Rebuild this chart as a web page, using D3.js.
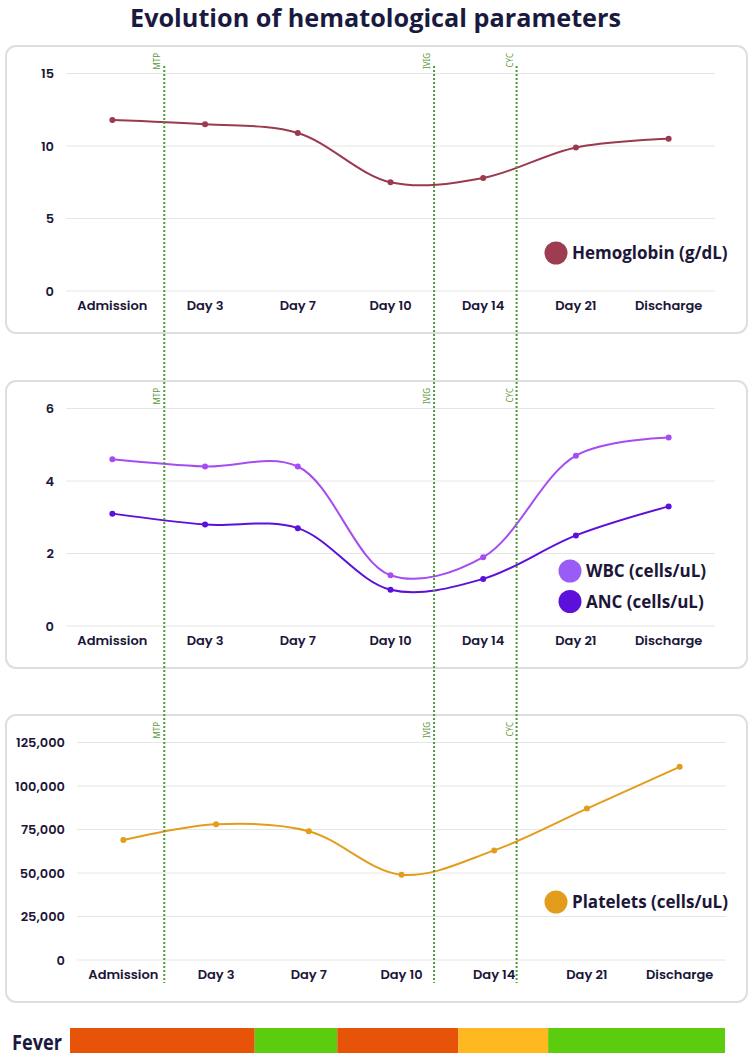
<!DOCTYPE html>
<html lang="en">
<head>
    <meta charset="UTF-8">
    <title>Evolution of hematological parameters</title>
    <script src="https://d3js.org/d3.v7.min.js"></script>
    <style>
        body {
            margin: 0;
            padding: 0;
            background: #ffffff;
        }
        .axis-label {
            font-family: Poppins, Inter, 'Noto Sans', sans-serif;
            font-weight: 600;
            font-size: 13px;
            fill: #1c1638;
        }
        .legend-label {
            font-family: 'Open Sans', sans-serif;
            font-weight: 700;
            font-size: 17px;
            fill: #1c1638;
        }
    </style>
</head>
<body>
    <div id="chart"></div>
    <script>
        // data
        var categories = ["Admission", "Day 3", "Day 7", "Day 10", "Day 14", "Day 21", "Discharge"];
        var hemoglobin = [11.8, 11.5, 10.9, 7.5, 7.8, 9.9, 10.5];
        var wbc = [4.6, 4.4, 4.4, 1.4, 1.9, 4.7, 5.2];
        var anc = [3.1, 2.8, 2.7, 1.0, 1.3, 2.5, 3.3];
        var platelets = [69000, 78000, 74000, 49000, 63000, 87000, 111000];

        var hbTicks = [0, 5, 10, 15];
        var wbcTicks = [0, 2, 4, 6];
        var pltTicks = [0, 25000, 50000, 75000, 100000, 125000];

        // treatments, placed between categories (fractional category index)
        var treatments = ["MTP", "IVIG", "CYC"];
        var treatmentAt = [0.56, 3.47, 4.36];

        // fever bar: breaks as % of the stay
        var feverBreaks = [0, 28.2, 40.8, 59.3, 73, 100];
        var feverState = ["Fever", "Afebrile", "Fever", "Low-grade", "Afebrile"];
        var feverColors = {"Fever": "#e8530a", "Afebrile": "#5bcc0e", "Low-grade": "#ffb820"};

        var width = 753, height = 1058;

        var svg = d3.select("#chart").append("svg")
            .attr("width", width)
            .attr("height", height)
            .attr("viewBox", [0, 0, width, height]);

        svg.append("text")
            .attr("x", 130)
            .attr("y", 27)
            .attr("textLength", 491)
            .attr("lengthAdjust", "spacingAndGlyphs")
            .style("font-family", "'Open Sans', sans-serif")
            .style("font-weight", 700)
            .style("font-size", "25px")
            .style("fill", "#1a1a40")
            .text("Evolution of hematological parameters");

        var panels = [
            {top: 46, left: 66, right: 715, max: 15, ticks: hbTicks, fmt: d3.format("d"),
             series: [{values: hemoglobin, color: "#9b3a4f", legendColor: "#9e3d52", name: "Hemoglobin (g/dL)"}],
             legendX: 556, legendY: 253},
            {top: 381, left: 66, right: 715, max: 6, ticks: wbcTicks, fmt: d3.format("d"),
             series: [{values: wbc, color: "#a64df2", legendColor: "#9a5cf6", name: "WBC (cells/uL)"},
                      {values: anc, color: "#5c10d9", legendColor: "#5c10d9", name: "ANC (cells/uL)"}],
             legendX: 570, legendY: 571},
            {top: 715, left: 77, right: 726, max: 125000, ticks: pltTicks, fmt: d3.format(","),
             series: [{values: platelets, color: "#e39c1c", legendColor: "#e39c1c", name: "Platelets (cells/uL)"}],
             legendX: 556, legendY: 902}
        ];

        var panelH = 287;
        var gridTop = 27.5, gridBottom = 245;

        // x position of treatment lines, taken from the first panel
        var firstX = d3.scaleBand().domain(categories).range([panels[0].left, panels[0].right]);
        var idxScale = d3.scaleLinear()
            .domain([0, categories.length - 1])
            .range([firstX(categories[0]) + firstX.bandwidth() / 2,
                    firstX(categories[categories.length - 1]) + firstX.bandwidth() / 2]);

        panels.forEach(function(p) {
            var g = svg.append("g");

            g.append("rect")
                .attr("x", 6)
                .attr("y", p.top)
                .attr("width", 741)
                .attr("height", panelH)
                .attr("rx", 10)
                .style("fill", "#fff")
                .style("stroke", "#dedede")
                .style("stroke-width", 2);

            var x = d3.scaleBand().domain(categories).range([p.left, p.right]);
            var y = d3.scaleLinear().domain([0, p.max]).range([p.top + gridBottom, p.top + gridTop]);

            // gridlines
            g.selectAll(".grid")
                .data(p.ticks)
                .enter()
                .append("line")
                .attr("x1", p.left)
                .attr("x2", p.right)
                .attr("y1", d => y(d))
                .attr("y2", d => y(d))
                .style("stroke", "#e6e6e6")
                .style("stroke-width", 1);

            // y labels
            g.selectAll(".ylab")
                .data(p.ticks)
                .enter()
                .append("text")
                .attr("class", "axis-label")
                .attr("x", p.left - 12)
                .attr("y", d => y(d) + 4.5)
                .attr("text-anchor", "end")
                .text(p.fmt);

            // x labels
            g.selectAll(".xlab")
                .data(categories)
                .enter()
                .append("text")
                .attr("class", "axis-label")
                .attr("x", d => x(d) + x.bandwidth() / 2)
                .attr("y", p.top + gridBottom + 19)
                .attr("text-anchor", "middle")
                .text(d => d);

            // lines + points
            var line = d3.line()
                .x((d, i) => x(categories[i]) + x.bandwidth() / 2)
                .y(d => y(d))
                .curve(d3.curveCatmullRom.alpha(0.5));

            p.series.forEach(function(s, si) {
                g.append("path")
                    .datum(s.values)
                    .attr("d", line)
                    .style("fill", "none")
                    .style("stroke", s.color)
                    .style("stroke-width", 2);

                g.selectAll(".pt" + si)
                    .data(s.values)
                    .enter()
                    .append("circle")
                    .attr("cx", (d, i) => x(categories[i]) + x.bandwidth() / 2)
                    .attr("cy", d => y(d))
                    .attr("r", 3)
                    .style("fill", s.color);

                // legend
                g.append("circle")
                    .attr("cx", p.legendX)
                    .attr("cy", p.legendY + si * 30.5)
                    .attr("r", 11.5)
                    .style("fill", s.legendColor);

                g.append("text")
                    .attr("class", "legend-label")
                    .attr("x", p.legendX + 16)
                    .attr("y", p.legendY + si * 30.5 + 6)
                    .text(s.name);
            });

            // treatment labels at the top of each panel
            treatments.forEach(function(t, i) {
                var tx = idxScale(treatmentAt[i]) - 4;
                g.append("text")
                    .attr("transform", "translate(" + tx + "," + (p.top + 7) + ") rotate(-90)")
                    .attr("text-anchor", "end")
                    .style("font-family", "'Noto Sans', sans-serif")
                    .style("font-size", "8px")
                    .style("fill", "#5a9a3a")
                    .text(t);
            });
        });

        // treatment lines, across all three panels
        svg.selectAll(".treat")
            .data(treatmentAt)
            .enter()
            .append("line")
            .attr("x1", d => idxScale(d))
            .attr("x2", d => idxScale(d))
            .attr("y1", 66)
            .attr("y2", 983)
            .style("stroke", "#4f9a33")
            .style("stroke-width", 2)
            .style("stroke-dasharray", "2 2");

        // fever bar
        var feverX = d3.scaleLinear().domain([0, 100]).range([70, 725]);

        svg.append("text")
            .attr("x", 12)
            .attr("y", 1050)
            .attr("textLength", 50)
            .attr("lengthAdjust", "spacingAndGlyphs")
            .style("font-family", "'Open Sans', sans-serif")
            .style("font-weight", 700)
            .style("font-size", "22px")
            .style("fill", "#1a1a40")
            .text("Fever");

        svg.selectAll(".fever")
            .data(feverState)
            .enter()
            .append("rect")
            .attr("x", (d, i) => feverX(feverBreaks[i]))
            .attr("width", (d, i) => feverX(feverBreaks[i + 1]) - feverX(feverBreaks[i]))
            .attr("y", 1028)
            .attr("height", 25)
            .style("fill", d => feverColors[d]);
    </script>
</body>
</html>
